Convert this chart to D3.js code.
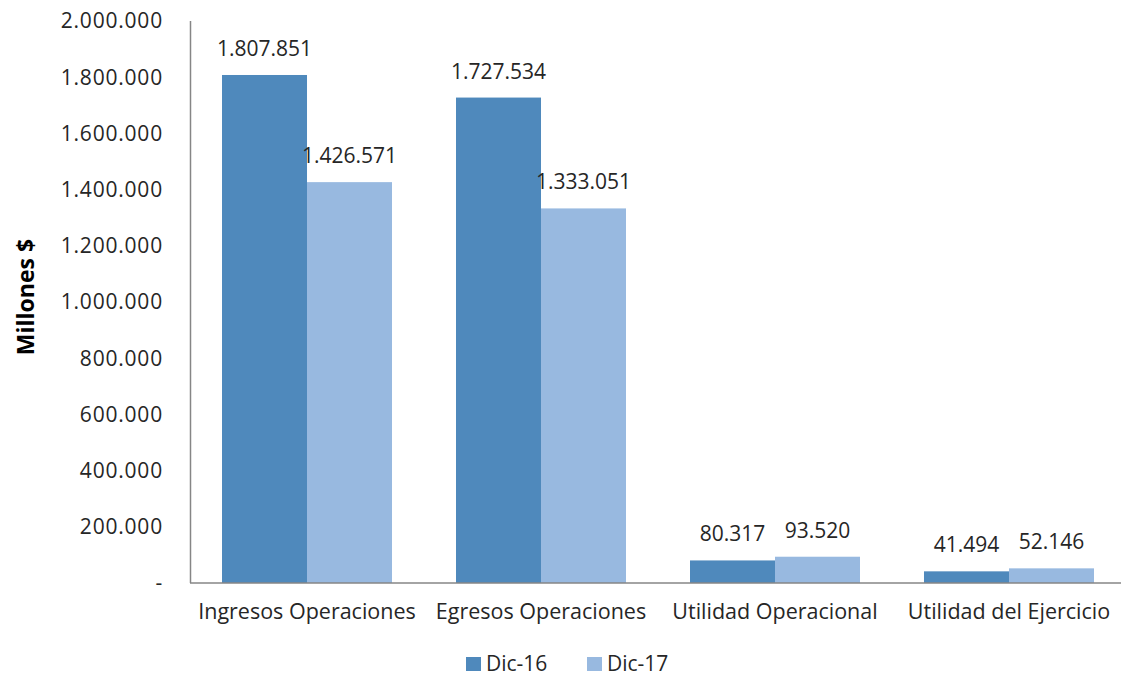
<!DOCTYPE html>
<html>
<head>
<meta charset="utf-8">
<script src="https://cdn.jsdelivr.net/npm/d3@7"></script>
<style>
  body { margin: 0; background: #fff; }
  text { font-family: "Open Sans", sans-serif; fill: #262626; }
</style>
</head>
<body>
<div id="chart"></div>
<script>
const width = 1125;
const height = 676;

const categories = ["Ingresos Operaciones", "Egresos Operaciones", "Utilidad Operacional", "Utilidad del Ejercicio"];
const seriesNames = ["Dic-16", "Dic-17"];
const dic16 = [1807851, 1727534, 80317, 41494];
const dic17 = [1426571, 1333051, 93520, 52146];
const yTicks = [0, 200000, 400000, 600000, 800000, 1000000, 1200000, 1400000, 1600000, 1800000, 2000000];
const colors = ["#4f89bc", "#98b9e0"];

const margin = {top: 21, right: -1, bottom: 93, left: 190};

const svg = d3.select("#chart")
    .append("svg")
    .attr("width", width)
    .attr("height", height);

const x = d3.scaleBand()
    .domain(categories)
    .range([margin.left, width - margin.right])
    .paddingInner(0.2735)
    .paddingOuter(0.1368);

const x1 = d3.scaleBand()
    .domain(seriesNames)
    .range([0, x.bandwidth()]);

const y = d3.scaleLinear()
    .domain([0, 2000000])
    .range([height - margin.bottom, margin.top]);

const fmt = v => v === 0 ? "-" : d3.format(",")(v).replace(/,/g, ".");

// y axis labels
svg.append("g")
    .selectAll("text")
    .data(yTicks)
    .enter().append("text")
    .attr("x", 163)
    .attr("y", d => y(d))
    .attr("dy", "0.35em")
    .attr("text-anchor", "end")
    .style("font-size", "21px")
    .style("letter-spacing", "0.8px")
    .text(fmt);

// bars
const rows = categories.map((c, i) => ({cat: c, vals: [dic16[i], dic17[i]]}));
const groups = svg.append("g")
    .selectAll("g")
    .data(rows)
    .enter().append("g")
    .attr("transform", d => `translate(${x(d.cat)},0)`);

groups.selectAll("rect")
    .data(d => d.vals.map((v, j) => ({name: seriesNames[j], v: v, j: j})))
    .enter().append("rect")
    .attr("x", d => x1(d.name))
    .attr("y", d => y(d.v))
    .attr("width", x1.bandwidth())
    .attr("height", d => y(0) - y(d.v))
    .attr("fill", d => colors[d.j]);

groups.selectAll("text")
    .data(d => d.vals.map((v, j) => ({name: seriesNames[j], v: v})))
    .enter().append("text")
    .attr("x", d => x1(d.name) + x1.bandwidth() / 2)
    .attr("y", d => y(d.v) - 19)
    .attr("text-anchor", "middle")
    .style("font-size", "21px")
    .text(d => fmt(d.v));

// axis lines
svg.append("line")
    .attr("x1", margin.left + 0.5).attr("x2", margin.left + 0.5)
    .attr("y1", y(2000000)).attr("y2", y(0))
    .attr("stroke", "#868686").attr("stroke-width", 1.5);

svg.append("line")
    .attr("x1", margin.left).attr("x2", 1121)
    .attr("y1", y(0)).attr("y2", y(0))
    .attr("stroke", "#868686").attr("stroke-width", 1.5);

// category labels
svg.append("g")
    .selectAll("text")
    .data(categories)
    .enter().append("text")
    .attr("x", d => x(d) + x.bandwidth() / 2)
    .attr("y", 619)
    .attr("text-anchor", "middle")
    .style("font-size", "21.5px")
    .text(d => d);

// y title
svg.append("text")
    .attr("transform", "translate(34,297) rotate(-90)")
    .attr("text-anchor", "middle")
    .style("font-size", "23px")
    .style("font-weight", "bold")
    .style("fill", "#000")
    .text("Millones $");

// legend
const legendX = [466, 587];
const legend = svg.append("g")
    .selectAll("g")
    .data(seriesNames)
    .enter().append("g")
    .attr("transform", (d, i) => `translate(${legendX[i]},657)`);

legend.append("rect")
    .attr("width", 15).attr("height", 14)
    .attr("fill", (d, i) => colors[i]);

legend.append("text")
    .attr("x", 20)
    .attr("y", 7)
    .attr("dy", "0.35em")
    .style("font-size", "21px")
    .text(d => d);
</script>
</body>
</html>
